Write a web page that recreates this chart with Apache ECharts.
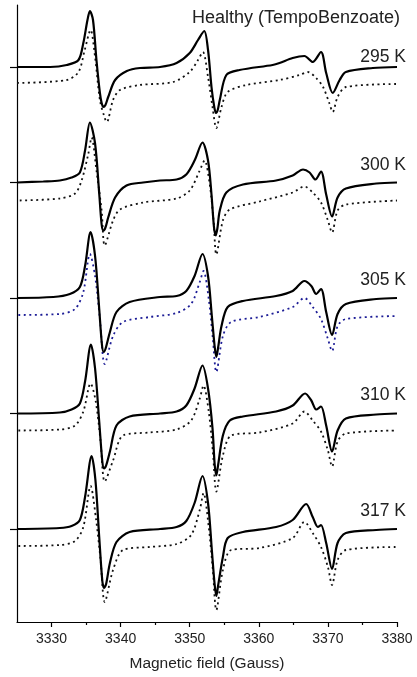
<!DOCTYPE html>
<html>
<head>
<meta charset="utf-8">
<script src="https://cdn.jsdelivr.net/npm/echarts@6/dist/echarts.min.js"></script>
<style>
  html, body { margin: 0; padding: 0; background: #ffffff; }
  #chart { width: 417px; height: 677px; }
</style>
</head>
<body>
<div id="chart"></div>
<script>
// EPR spectra of TEMPO-benzoate in healthy sample at five temperatures.
// Each spectrum: [magnetic field (G), signal intensity (a.u.)], baseline at 0.
const temperatures = ['295 K', '300 K', '305 K', '310 K', '317 K'];

// Experimental spectra (solid lines)
const exp295 = [[3325,0],[3329.8,0],[3332.2,2],[3333.9,7],[3334.6,24],[3335.2,47],[3335.55,56],[3336.0,47],[3336.5,7],[3337.0,-26],[3337.25,-36],[3337.5,-40],[3337.8,-38],[3338.2,-30],[3339.2,-13],[3340.9,-4],[3342.8,-1],[3345.7,0],[3348.1,4],[3350.0,14],[3351.2,27],[3352.1,36],[3352.65,17],[3353.15,-20],[3353.55,-40],[3353.8,-46],[3354.05,-43],[3354.35,-33],[3355.3,-8],[3357.2,-3],[3362.0,2],[3363.0,4],[3364.9,9],[3366.6,11],[3367.8,5],[3369.0,15],[3369.75,-6],[3370.7,-26],[3371.7,-13],[3372.6,-5],[3376.5,-1],[3380,0]];
const exp300 = [[3325,0],[3328.8,1],[3331.2,2],[3332.9,5],[3334.1,10],[3334.85,32],[3335.55,60],[3336.3,39],[3336.9,-11],[3337.25,-42],[3337.5,-48],[3337.8,-45],[3338.2,-35],[3339.2,-15],[3340.85,-3],[3343.25,0],[3345.7,2],[3348.1,3],[3349.5,8],[3350.7,22],[3351.85,40],[3352.65,22],[3353.15,-12],[3353.5,-44],[3353.75,-53],[3354.0,-46],[3354.35,-28],[3355.3,-10],[3357.7,-2],[3362.5,2],[3364.9,7],[3366.4,13],[3367.35,10],[3368.2,3],[3369.0,11],[3369.75,-12],[3370.6,-34],[3371.4,-15],[3372.6,-6],[3377.0,-1],[3380,0]];
const exp305 = [[3325,0],[3330.25,1],[3332.65,4],[3334.1,11],[3334.85,32],[3335.65,66],[3336.3,42],[3336.9,-11],[3337.3,-47],[3337.55,-54],[3337.85,-50],[3338.45,-34],[3339.4,-14],[3341.3,-4],[3345.7,1],[3348.1,2],[3349.5,7],[3350.7,22],[3351.85,44],[3352.65,22],[3353.2,-18],[3353.6,-48],[3353.85,-59],[3354.1,-50],[3354.6,-28],[3355.5,-9],[3357.7,-3],[3362.5,2],[3364.9,7],[3366.6,17],[3367.6,12],[3368.3,4],[3369.0,9],[3369.75,-14],[3370.6,-37],[3371.4,-16],[3372.6,-6],[3377.0,-1],[3380,0]];
const exp310 = [[3325,0],[3331.2,1],[3332.9,4],[3334.1,10],[3334.85,32],[3335.7,69],[3336.3,45],[3336.9,-8],[3337.35,-48],[3337.6,-55],[3337.9,-52],[3338.45,-38],[3339.4,-12],[3341.3,-3],[3345.7,0],[3348.1,2],[3349.5,8],[3350.7,25],[3351.85,48],[3352.65,25],[3353.3,-15],[3353.6,-50],[3353.85,-62],[3354.1,-52],[3354.8,-22],[3355.8,-7],[3357.7,-3],[3362.5,2],[3364.9,8],[3366.7,20],[3367.6,13],[3368.3,4],[3369.0,7],[3369.75,-12],[3370.6,-38],[3371.4,-17],[3372.6,-5],[3377.0,-1],[3380,0]];
const exp317 = [[3325,0],[3331.2,1],[3332.9,3],[3334.1,9],[3334.85,32],[3335.8,73],[3336.35,49],[3336.9,-8],[3337.35,-52],[3337.6,-59],[3337.9,-55],[3338.45,-34],[3339.4,-13],[3341.3,-3],[3345.7,0],[3348.1,2],[3349.5,8],[3350.7,26],[3351.85,53],[3352.65,26],[3353.2,-21],[3353.6,-55],[3353.85,-67],[3354.1,-57],[3354.8,-28],[3355.5,-9],[3357.7,-3],[3362.5,2],[3364.9,9],[3366.85,25],[3367.8,12],[3368.55,2],[3369.0,4],[3369.75,-14],[3370.6,-40],[3371.4,-14],[3372.6,-4],[3377.0,-1],[3380,0]];

// Simulated spectra (dotted lines)
const sim295 = [[3325,1],[3332.2,4],[3333.9,12],[3334.8,34],[3335.65,54],[3336.3,27],[3337.0,-16],[3337.7,-34],[3338.0,-38],[3338.9,-16],[3339.9,-6],[3342.8,-1],[3347.6,2],[3350.0,12],[3351.2,24],[3351.9,32],[3352.65,7],[3353.3,-23],[3353.85,-44],[3354.6,-23],[3355.5,-8],[3358.2,-1],[3363.0,4],[3365.9,9],[3367.1,12],[3368.3,6],[3369.3,-3],[3370.2,-19],[3370.7,-28],[3371.4,-13],[3372.6,-3],[3380,0]];
const sim300 = [[3325.4,-1],[3331.2,1],[3333.4,6],[3334.35,19],[3335.3,45],[3335.8,62],[3336.5,29],[3337.25,-11],[3337.7,-46],[3338.9,-21],[3339.9,-10],[3343.25,-3],[3348.1,1],[3350.0,9],[3351.45,29],[3352.15,39],[3352.9,15],[3353.45,-21],[3353.85,-55],[3354.8,-21],[3355.8,-10],[3360.1,-2],[3364.9,7],[3366.6,13],[3367.8,7],[3369.0,-3],[3370.0,-21],[3370.6,-33],[3371.4,-11],[3372.6,-5],[3380,-1]];
const sim305 = [[3325.2,0],[3331.2,1],[3333.4,6],[3334.6,23],[3335.55,61],[3336.3,39],[3337.0,-4],[3337.7,-49],[3338.9,-21],[3340.35,-7],[3344.2,-2],[3348.1,2],[3350.2,11],[3351.45,33],[3352.0,44],[3352.75,16],[3353.35,-24],[3353.85,-57],[3354.8,-21],[3356.0,-7],[3360.1,-2],[3364.9,8],[3366.6,17],[3367.8,8],[3369.0,-4],[3370.0,-24],[3370.6,-36],[3371.4,-11],[3372.6,-4],[3380,-1]];
const sim310 = [[3325.2,0],[3331.2,1],[3333.4,5],[3334.6,19],[3335.65,47],[3336.4,29],[3337.1,-11],[3337.7,-51],[3338.9,-30],[3340.35,-5],[3344.2,-2],[3348.1,1],[3350.2,10],[3351.45,32],[3352.0,45],[3352.75,19],[3353.35,-21],[3353.85,-61],[3354.8,-25],[3356.0,-5],[3360.1,-2],[3364.9,7],[3366.6,19],[3367.8,10],[3369.0,-1],[3370.0,-20],[3370.6,-36],[3371.4,-11],[3372.6,-3],[3380,0]];
const sim317 = [[3325.2,0],[3331.2,1],[3333.4,5],[3334.6,19],[3335.65,60],[3336.4,29],[3337.1,-14],[3337.7,-56],[3338.9,-24],[3340.35,-4],[3344.2,-1],[3348.1,2],[3350.2,11],[3351.45,36],[3352.0,53],[3352.75,19],[3353.35,-24],[3353.85,-64],[3354.8,-24],[3356.0,-4],[3360.1,-2],[3364.9,8],[3366.6,24],[3367.8,13],[3369.0,-1],[3370.0,-21],[3370.6,-39],[3371.4,-14],[3372.6,-4],[3380,-1]];

const experimental = [exp295, exp300, exp305, exp310, exp317];
const simulated = [sim295, sim300, sim305, sim310, sim317];
const simColors = ['#111111', '#111111', '#1c1c96', '#111111', '#111111'];

const xTicks = [3330, 3340, 3350, 3360, 3370, 3380];
const xMinorTicks = [3335, 3345, 3355, 3365, 3375];

// Vertical stacking of the spectra
const stackStep = 115.5;
const simShift = -17;
const offsets = temperatures.map((t, i) => (temperatures.length - 1 - i) * stackStep);

const FONT = '"Liberation Sans", Arial, sans-serif';

const series = [];
temperatures.forEach((t, i) => {
  series.push({
    name: t + ' sim',
    type: 'line',
    data: simulated[i].map(([g, v]) => [g, v + offsets[i] + simShift]),
    showSymbol: false,
    smooth: 0.3,
    lineStyle: { color: simColors[i], width: 1.8, type: [2, 3.5], cap: 'butt' },
    silent: true,
    z: 2
  });
  series.push({
    name: t,
    type: 'line',
    data: experimental[i].map(([g, v]) => [g, v + offsets[i]]),
    showSymbol: false,
    smooth: 0.3,
    lineStyle: { color: '#000000', width: 2.2 },
    silent: true,
    z: 3
  });
});

const chart = echarts.init(document.getElementById('chart'), null, { renderer: 'canvas' });

const axisLine = { show: true, onZero: false, lineStyle: { color: '#000000', width: 1.2 } };

chart.setOption({
  animation: false,
  backgroundColor: '#ffffff',
  grid: { left: 17, right: 20, top: 5, bottom: 55, containLabel: false },
  xAxis: [
    {
      type: 'value',
      min: 3325,
      max: 3380,
      name: 'Magnetic field (Gauss)',
      nameLocation: 'middle',
      nameGap: 34,
      nameTextStyle: { fontFamily: FONT, fontSize: 15.5, color: '#222222' },
      axisLine: axisLine,
      axisTick: { show: true, inside: false, length: 5, customValues: xTicks, lineStyle: { color: '#000000', width: 1.2 } },
      axisLabel: { show: true, customValues: xTicks, margin: 10, fontFamily: FONT, fontSize: 14, color: '#222222', formatter: (v) => String(v) },
      splitLine: { show: false }
    },
    {
      // minor ticks between the labelled ones
      type: 'value',
      min: 3325,
      max: 3380,
      position: 'bottom',
      axisLine: { show: false, onZero: false },
      axisTick: { show: true, inside: false, length: 3, customValues: xMinorTicks, lineStyle: { color: '#000000', width: 1.2 } },
      axisLabel: { show: false },
      splitLine: { show: false }
    }
  ],
  yAxis: {
    type: 'value',
    min: -93,
    max: 524,
    axisLine: axisLine,
    axisTick: { show: true, inside: false, length: 7, customValues: offsets.slice(), lineStyle: { color: '#000000', width: 1.2 } },
    axisLabel: { show: false, customValues: offsets.slice() },
    splitLine: { show: false }
  },
  series: series
});

// Temperature labels at the right end of each spectrum, and the sample title
const labelRaise = [10, 17, 18, 18, 18];
const graphics = temperatures.map((t, i) => {
  const p = chart.convertToPixel({ xAxisIndex: 0, yAxisIndex: 0 }, [3380, offsets[i]]);
  return {
    type: 'text',
    style: {
      text: t,
      x: p[0] + 9,
      y: p[1] - labelRaise[i],
      align: 'right',
      verticalAlign: 'middle',
      font: '17.5px ' + FONT,
      fill: '#222222'
    },
    z: 10
  };
});
graphics.push({
  type: 'text',
  style: {
    text: 'Healthy (TempoBenzoate)',
    x: 400,
    y: 18,
    align: 'right',
    verticalAlign: 'middle',
    font: '18px ' + FONT,
    fill: '#222222'
  },
  z: 10
});
chart.setOption({ graphic: graphics });
</script>
</body>
</html>
